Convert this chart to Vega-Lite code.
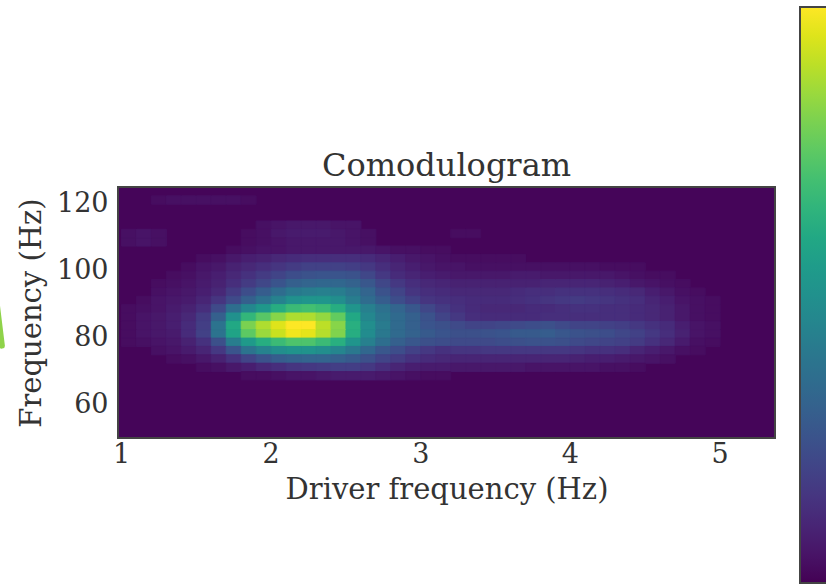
{"$schema":"https://vega.github.io/schema/vega-lite/v6.json","width":657,"height":251,"autosize":{"type":"none"},"padding":{"left":118,"top":187,"right":51,"bottom":147},"background":"white","title":{"text":"Comodulogram","font":"DejaVu Serif","fontSize":32,"fontWeight":"normal","color":"#333333","offset":-176},"config":{"view":{"stroke":"#444444","strokeWidth":2,"fill":"#450559"}},"resolve":{"scale":{"color":"independent"}},"layer":[{"data":{"values":[
{"x":1.25,"y":120,"v":0.03},{"x":1.35,"y":120,"v":0.04},{"x":1.45,"y":120,"v":0.04},{"x":1.55,"y":120,"v":0.04},{"x":1.65,"y":120,"v":0.04},{"x":1.75,"y":120,"v":0.04},{"x":1.85,"y":120,"v":0.03},
{"x":1.05,"y":107.5,"v":0.04},{"x":1.15,"y":107.5,"v":0.05},{"x":1.25,"y":107.5,"v":0.04},{"x":1.05,"y":110,"v":0.04},{"x":1.15,"y":110,"v":0.05},{"x":1.25,"y":110,"v":0.04},
{"x":1.95,"y":112.5,"v":0.04},{"x":2.05,"y":112.5,"v":0.05},{"x":2.15,"y":112.5,"v":0.06},{"x":2.25,"y":112.5,"v":0.06},{"x":2.35,"y":112.5,"v":0.06},{"x":2.45,"y":112.5,"v":0.05},{"x":2.55,"y":112.5,"v":0.05},
{"x":1.85,"y":110,"v":0.03},{"x":1.95,"y":110,"v":0.04},{"x":2.05,"y":110,"v":0.06},{"x":2.15,"y":110,"v":0.07},{"x":2.25,"y":110,"v":0.07},{"x":2.35,"y":110,"v":0.07},{"x":2.45,"y":110,"v":0.06},{"x":2.55,"y":110,"v":0.05},{"x":2.65,"y":110,"v":0.04},{"x":3.25,"y":110,"v":0.03},{"x":3.35,"y":110,"v":0.03},
{"x":1.85,"y":107.5,"v":0.03},{"x":1.95,"y":107.5,"v":0.04},{"x":2.05,"y":107.5,"v":0.05},{"x":2.15,"y":107.5,"v":0.06},{"x":2.25,"y":107.5,"v":0.06},{"x":2.35,"y":107.5,"v":0.06},{"x":2.45,"y":107.5,"v":0.06},{"x":2.55,"y":107.5,"v":0.05},{"x":2.65,"y":107.5,"v":0.04},
{"x":1.75,"y":105,"v":0.03},{"x":1.85,"y":105,"v":0.04},{"x":1.95,"y":105,"v":0.05},{"x":2.05,"y":105,"v":0.05},{"x":2.15,"y":105,"v":0.06},{"x":2.25,"y":105,"v":0.06},{"x":2.35,"y":105,"v":0.06},{"x":2.45,"y":105,"v":0.06},{"x":2.55,"y":105,"v":0.06},{"x":2.65,"y":105,"v":0.06},{"x":2.75,"y":105,"v":0.05},{"x":2.85,"y":105,"v":0.04},{"x":2.95,"y":105,"v":0.04},{"x":3.05,"y":105,"v":0.03},{"x":3.15,"y":105,"v":0.03},
{"x":1.55,"y":102.5,"v":0.03},{"x":1.65,"y":102.5,"v":0.04},{"x":1.75,"y":102.5,"v":0.06},{"x":1.85,"y":102.5,"v":0.08},{"x":1.95,"y":102.5,"v":0.09},{"x":2.05,"y":102.5,"v":0.11},{"x":2.15,"y":102.5,"v":0.12},{"x":2.25,"y":102.5,"v":0.13},{"x":2.35,"y":102.5,"v":0.13},{"x":2.45,"y":102.5,"v":0.13},{"x":2.55,"y":102.5,"v":0.13},{"x":2.65,"y":102.5,"v":0.12},{"x":2.75,"y":102.5,"v":0.1},{"x":2.85,"y":102.5,"v":0.08},{"x":2.95,"y":102.5,"v":0.06},{"x":3.05,"y":102.5,"v":0.05},{"x":3.15,"y":102.5,"v":0.04},{"x":3.25,"y":102.5,"v":0.03},{"x":3.35,"y":102.5,"v":0.03},{"x":3.45,"y":102.5,"v":0.03},{"x":3.55,"y":102.5,"v":0.03},{"x":3.65,"y":102.5,"v":0.03},
{"x":1.45,"y":100,"v":0.03},{"x":1.55,"y":100,"v":0.05},{"x":1.65,"y":100,"v":0.06},{"x":1.75,"y":100,"v":0.09},{"x":1.85,"y":100,"v":0.11},{"x":1.95,"y":100,"v":0.13},{"x":2.05,"y":100,"v":0.15},{"x":2.15,"y":100,"v":0.17},{"x":2.25,"y":100,"v":0.19},{"x":2.35,"y":100,"v":0.19},{"x":2.45,"y":100,"v":0.19},{"x":2.55,"y":100,"v":0.18},{"x":2.65,"y":100,"v":0.16},{"x":2.75,"y":100,"v":0.13},{"x":2.85,"y":100,"v":0.1},{"x":2.95,"y":100,"v":0.08},{"x":3.05,"y":100,"v":0.06},{"x":3.15,"y":100,"v":0.05},{"x":3.25,"y":100,"v":0.05},{"x":3.35,"y":100,"v":0.04},{"x":3.45,"y":100,"v":0.04},{"x":3.55,"y":100,"v":0.04},{"x":3.65,"y":100,"v":0.04},{"x":3.75,"y":100,"v":0.04},{"x":3.85,"y":100,"v":0.04},{"x":3.95,"y":100,"v":0.04},{"x":4.05,"y":100,"v":0.04},{"x":4.15,"y":100,"v":0.04},{"x":4.25,"y":100,"v":0.03},{"x":4.35,"y":100,"v":0.03},{"x":4.45,"y":100,"v":0.03},
{"x":1.35,"y":97.5,"v":0.03},{"x":1.45,"y":97.5,"v":0.04},{"x":1.55,"y":97.5,"v":0.06},{"x":1.65,"y":97.5,"v":0.08},{"x":1.75,"y":97.5,"v":0.11},{"x":1.85,"y":97.5,"v":0.14},{"x":1.95,"y":97.5,"v":0.17},{"x":2.05,"y":97.5,"v":0.2},{"x":2.15,"y":97.5,"v":0.23},{"x":2.25,"y":97.5,"v":0.25},{"x":2.35,"y":97.5,"v":0.26},{"x":2.45,"y":97.5,"v":0.26},{"x":2.55,"y":97.5,"v":0.25},{"x":2.65,"y":97.5,"v":0.21},{"x":2.75,"y":97.5,"v":0.16},{"x":2.85,"y":97.5,"v":0.12},{"x":2.95,"y":97.5,"v":0.1},{"x":3.05,"y":97.5,"v":0.08},{"x":3.15,"y":97.5,"v":0.07},{"x":3.25,"y":97.5,"v":0.06},{"x":3.35,"y":97.5,"v":0.06},{"x":3.45,"y":97.5,"v":0.06},{"x":3.55,"y":97.5,"v":0.06},{"x":3.65,"y":97.5,"v":0.07},{"x":3.75,"y":97.5,"v":0.07},{"x":3.85,"y":97.5,"v":0.06},{"x":3.95,"y":97.5,"v":0.06},{"x":4.05,"y":97.5,"v":0.06},{"x":4.15,"y":97.5,"v":0.06},{"x":4.25,"y":97.5,"v":0.06},{"x":4.35,"y":97.5,"v":0.05},{"x":4.45,"y":97.5,"v":0.04},{"x":4.55,"y":97.5,"v":0.03},{"x":4.65,"y":97.5,"v":0.03},
{"x":1.25,"y":95,"v":0.03},{"x":1.35,"y":95,"v":0.04},{"x":1.45,"y":95,"v":0.05},{"x":1.55,"y":95,"v":0.07},{"x":1.65,"y":95,"v":0.09},{"x":1.75,"y":95,"v":0.13},{"x":1.85,"y":95,"v":0.17},{"x":1.95,"y":95,"v":0.21},{"x":2.05,"y":95,"v":0.26},{"x":2.15,"y":95,"v":0.3},{"x":2.25,"y":95,"v":0.32},{"x":2.35,"y":95,"v":0.33},{"x":2.45,"y":95,"v":0.33},{"x":2.55,"y":95,"v":0.31},{"x":2.65,"y":95,"v":0.27},{"x":2.75,"y":95,"v":0.21},{"x":2.85,"y":95,"v":0.16},{"x":2.95,"y":95,"v":0.13},{"x":3.05,"y":95,"v":0.11},{"x":3.15,"y":95,"v":0.1},{"x":3.25,"y":95,"v":0.09},{"x":3.35,"y":95,"v":0.09},{"x":3.45,"y":95,"v":0.09},{"x":3.55,"y":95,"v":0.09},{"x":3.65,"y":95,"v":0.09},{"x":3.75,"y":95,"v":0.09},{"x":3.85,"y":95,"v":0.1},{"x":3.95,"y":95,"v":0.1},{"x":4.05,"y":95,"v":0.1},{"x":4.15,"y":95,"v":0.1},{"x":4.25,"y":95,"v":0.09},{"x":4.35,"y":95,"v":0.08},{"x":4.45,"y":95,"v":0.06},{"x":4.55,"y":95,"v":0.05},{"x":4.65,"y":95,"v":0.04},{"x":4.75,"y":95,"v":0.03},
{"x":1.25,"y":92.5,"v":0.04},{"x":1.35,"y":92.5,"v":0.05},{"x":1.45,"y":92.5,"v":0.06},{"x":1.55,"y":92.5,"v":0.08},{"x":1.65,"y":92.5,"v":0.11},{"x":1.75,"y":92.5,"v":0.17},{"x":1.85,"y":92.5,"v":0.23},{"x":1.95,"y":92.5,"v":0.29},{"x":2.05,"y":92.5,"v":0.35},{"x":2.15,"y":92.5,"v":0.4},{"x":2.25,"y":92.5,"v":0.42},{"x":2.35,"y":92.5,"v":0.43},{"x":2.45,"y":92.5,"v":0.42},{"x":2.55,"y":92.5,"v":0.38},{"x":2.65,"y":92.5,"v":0.32},{"x":2.75,"y":92.5,"v":0.25},{"x":2.85,"y":92.5,"v":0.2},{"x":2.95,"y":92.5,"v":0.15},{"x":3.05,"y":92.5,"v":0.13},{"x":3.15,"y":92.5,"v":0.12},{"x":3.25,"y":92.5,"v":0.11},{"x":3.35,"y":92.5,"v":0.11},{"x":3.45,"y":92.5,"v":0.11},{"x":3.55,"y":92.5,"v":0.11},{"x":3.65,"y":92.5,"v":0.12},{"x":3.75,"y":92.5,"v":0.13},{"x":3.85,"y":92.5,"v":0.13},{"x":3.95,"y":92.5,"v":0.14},{"x":4.05,"y":92.5,"v":0.14},{"x":4.15,"y":92.5,"v":0.14},{"x":4.25,"y":92.5,"v":0.13},{"x":4.35,"y":92.5,"v":0.12},{"x":4.45,"y":92.5,"v":0.11},{"x":4.55,"y":92.5,"v":0.08},{"x":4.65,"y":92.5,"v":0.06},{"x":4.75,"y":92.5,"v":0.04},{"x":4.85,"y":92.5,"v":0.03},
{"x":1.15,"y":90,"v":0.03},{"x":1.25,"y":90,"v":0.05},{"x":1.35,"y":90,"v":0.06},{"x":1.45,"y":90,"v":0.07},{"x":1.55,"y":90,"v":0.1},{"x":1.65,"y":90,"v":0.15},{"x":1.75,"y":90,"v":0.22},{"x":1.85,"y":90,"v":0.3},{"x":1.95,"y":90,"v":0.37},{"x":2.05,"y":90,"v":0.44},{"x":2.15,"y":90,"v":0.5},{"x":2.25,"y":90,"v":0.52},{"x":2.35,"y":90,"v":0.52},{"x":2.45,"y":90,"v":0.49},{"x":2.55,"y":90,"v":0.42},{"x":2.65,"y":90,"v":0.35},{"x":2.75,"y":90,"v":0.29},{"x":2.85,"y":90,"v":0.23},{"x":2.95,"y":90,"v":0.19},{"x":3.05,"y":90,"v":0.15},{"x":3.15,"y":90,"v":0.14},{"x":3.25,"y":90,"v":0.13},{"x":3.35,"y":90,"v":0.12},{"x":3.45,"y":90,"v":0.12},{"x":3.55,"y":90,"v":0.12},{"x":3.65,"y":90,"v":0.13},{"x":3.75,"y":90,"v":0.14},{"x":3.85,"y":90,"v":0.15},{"x":3.95,"y":90,"v":0.16},{"x":4.05,"y":90,"v":0.17},{"x":4.15,"y":90,"v":0.16},{"x":4.25,"y":90,"v":0.15},{"x":4.35,"y":90,"v":0.14},{"x":4.45,"y":90,"v":0.13},{"x":4.55,"y":90,"v":0.1},{"x":4.65,"y":90,"v":0.08},{"x":4.75,"y":90,"v":0.05},{"x":4.85,"y":90,"v":0.04},{"x":4.95,"y":90,"v":0.03},
{"x":1.05,"y":87.5,"v":0.03},{"x":1.15,"y":87.5,"v":0.04},{"x":1.25,"y":87.5,"v":0.05},{"x":1.35,"y":87.5,"v":0.07},{"x":1.45,"y":87.5,"v":0.09},{"x":1.55,"y":87.5,"v":0.13},{"x":1.65,"y":87.5,"v":0.22},{"x":1.75,"y":87.5,"v":0.36},{"x":1.85,"y":87.5,"v":0.46},{"x":1.95,"y":87.5,"v":0.53},{"x":2.05,"y":87.5,"v":0.62},{"x":2.15,"y":87.5,"v":0.68},{"x":2.25,"y":87.5,"v":0.7},{"x":2.35,"y":87.5,"v":0.68},{"x":2.45,"y":87.5,"v":0.62},{"x":2.55,"y":87.5,"v":0.52},{"x":2.65,"y":87.5,"v":0.43},{"x":2.75,"y":87.5,"v":0.37},{"x":2.85,"y":87.5,"v":0.32},{"x":2.95,"y":87.5,"v":0.27},{"x":3.05,"y":87.5,"v":0.21},{"x":3.15,"y":87.5,"v":0.17},{"x":3.25,"y":87.5,"v":0.14},{"x":3.35,"y":87.5,"v":0.12},{"x":3.45,"y":87.5,"v":0.11},{"x":3.55,"y":87.5,"v":0.11},{"x":3.65,"y":87.5,"v":0.11},{"x":3.75,"y":87.5,"v":0.12},{"x":3.85,"y":87.5,"v":0.12},{"x":3.95,"y":87.5,"v":0.13},{"x":4.05,"y":87.5,"v":0.14},{"x":4.15,"y":87.5,"v":0.14},{"x":4.25,"y":87.5,"v":0.13},{"x":4.35,"y":87.5,"v":0.13},{"x":4.45,"y":87.5,"v":0.12},{"x":4.55,"y":87.5,"v":0.11},{"x":4.65,"y":87.5,"v":0.09},{"x":4.75,"y":87.5,"v":0.06},{"x":4.85,"y":87.5,"v":0.04},{"x":4.95,"y":87.5,"v":0.03},
{"x":1.05,"y":85,"v":0.03},{"x":1.15,"y":85,"v":0.05},{"x":1.25,"y":85,"v":0.06},{"x":1.35,"y":85,"v":0.08},{"x":1.45,"y":85,"v":0.11},{"x":1.55,"y":85,"v":0.17},{"x":1.65,"y":85,"v":0.3},{"x":1.75,"y":85,"v":0.5},{"x":1.85,"y":85,"v":0.66},{"x":1.95,"y":85,"v":0.74},{"x":2.05,"y":85,"v":0.82},{"x":2.15,"y":85,"v":0.88},{"x":2.25,"y":85,"v":0.88},{"x":2.35,"y":85,"v":0.84},{"x":2.45,"y":85,"v":0.76},{"x":2.55,"y":85,"v":0.6},{"x":2.65,"y":85,"v":0.46},{"x":2.75,"y":85,"v":0.39},{"x":2.85,"y":85,"v":0.34},{"x":2.95,"y":85,"v":0.3},{"x":3.05,"y":85,"v":0.25},{"x":3.15,"y":85,"v":0.2},{"x":3.25,"y":85,"v":0.16},{"x":3.35,"y":85,"v":0.13},{"x":3.45,"y":85,"v":0.12},{"x":3.55,"y":85,"v":0.12},{"x":3.65,"y":85,"v":0.12},{"x":3.75,"y":85,"v":0.12},{"x":3.85,"y":85,"v":0.13},{"x":3.95,"y":85,"v":0.13},{"x":4.05,"y":85,"v":0.13},{"x":4.15,"y":85,"v":0.13},{"x":4.25,"y":85,"v":0.13},{"x":4.35,"y":85,"v":0.13},{"x":4.45,"y":85,"v":0.12},{"x":4.55,"y":85,"v":0.11},{"x":4.65,"y":85,"v":0.09},{"x":4.75,"y":85,"v":0.06},{"x":4.85,"y":85,"v":0.04},{"x":4.95,"y":85,"v":0.03},
{"x":1.05,"y":82.5,"v":0.03},{"x":1.15,"y":82.5,"v":0.05},{"x":1.25,"y":82.5,"v":0.06},{"x":1.35,"y":82.5,"v":0.08},{"x":1.45,"y":82.5,"v":0.12},{"x":1.55,"y":82.5,"v":0.18},{"x":1.65,"y":82.5,"v":0.38},{"x":1.75,"y":82.5,"v":0.6},{"x":1.85,"y":82.5,"v":0.8},{"x":1.95,"y":82.5,"v":0.88},{"x":2.05,"y":82.5,"v":0.95},{"x":2.15,"y":82.5,"v":1},{"x":2.25,"y":82.5,"v":1},{"x":2.35,"y":82.5,"v":0.9},{"x":2.45,"y":82.5,"v":0.82},{"x":2.55,"y":82.5,"v":0.63},{"x":2.65,"y":82.5,"v":0.49},{"x":2.75,"y":82.5,"v":0.41},{"x":2.85,"y":82.5,"v":0.34},{"x":2.95,"y":82.5,"v":0.3},{"x":3.05,"y":82.5,"v":0.26},{"x":3.15,"y":82.5,"v":0.24},{"x":3.25,"y":82.5,"v":0.22},{"x":3.35,"y":82.5,"v":0.2},{"x":3.45,"y":82.5,"v":0.2},{"x":3.55,"y":82.5,"v":0.21},{"x":3.65,"y":82.5,"v":0.22},{"x":3.75,"y":82.5,"v":0.23},{"x":3.85,"y":82.5,"v":0.24},{"x":3.95,"y":82.5,"v":0.22},{"x":4.05,"y":82.5,"v":0.2},{"x":4.15,"y":82.5,"v":0.2},{"x":4.25,"y":82.5,"v":0.19},{"x":4.35,"y":82.5,"v":0.18},{"x":4.45,"y":82.5,"v":0.16},{"x":4.55,"y":82.5,"v":0.14},{"x":4.65,"y":82.5,"v":0.12},{"x":4.75,"y":82.5,"v":0.08},{"x":4.85,"y":82.5,"v":0.05},{"x":4.95,"y":82.5,"v":0.04},
{"x":1.05,"y":80,"v":0.03},{"x":1.15,"y":80,"v":0.05},{"x":1.25,"y":80,"v":0.06},{"x":1.35,"y":80,"v":0.07},{"x":1.45,"y":80,"v":0.12},{"x":1.55,"y":80,"v":0.19},{"x":1.65,"y":80,"v":0.38},{"x":1.75,"y":80,"v":0.58},{"x":1.85,"y":80,"v":0.75},{"x":1.95,"y":80,"v":0.85},{"x":2.05,"y":80,"v":0.92},{"x":2.15,"y":80,"v":0.98},{"x":2.25,"y":80,"v":0.96},{"x":2.35,"y":80,"v":0.89},{"x":2.45,"y":80,"v":0.81},{"x":2.55,"y":80,"v":0.62},{"x":2.65,"y":80,"v":0.48},{"x":2.75,"y":80,"v":0.4},{"x":2.85,"y":80,"v":0.34},{"x":2.95,"y":80,"v":0.31},{"x":3.05,"y":80,"v":0.28},{"x":3.15,"y":80,"v":0.26},{"x":3.25,"y":80,"v":0.24},{"x":3.35,"y":80,"v":0.24},{"x":3.45,"y":80,"v":0.25},{"x":3.55,"y":80,"v":0.26},{"x":3.65,"y":80,"v":0.28},{"x":3.75,"y":80,"v":0.28},{"x":3.85,"y":80,"v":0.29},{"x":3.95,"y":80,"v":0.27},{"x":4.05,"y":80,"v":0.25},{"x":4.15,"y":80,"v":0.24},{"x":4.25,"y":80,"v":0.23},{"x":4.35,"y":80,"v":0.21},{"x":4.45,"y":80,"v":0.19},{"x":4.55,"y":80,"v":0.16},{"x":4.65,"y":80,"v":0.13},{"x":4.75,"y":80,"v":0.09},{"x":4.85,"y":80,"v":0.05},{"x":4.95,"y":80,"v":0.04},
{"x":1.05,"y":77.5,"v":0.03},{"x":1.15,"y":77.5,"v":0.04},{"x":1.25,"y":77.5,"v":0.05},{"x":1.35,"y":77.5,"v":0.06},{"x":1.45,"y":77.5,"v":0.09},{"x":1.55,"y":77.5,"v":0.14},{"x":1.65,"y":77.5,"v":0.24},{"x":1.75,"y":77.5,"v":0.42},{"x":1.85,"y":77.5,"v":0.54},{"x":1.95,"y":77.5,"v":0.62},{"x":2.05,"y":77.5,"v":0.68},{"x":2.15,"y":77.5,"v":0.72},{"x":2.25,"y":77.5,"v":0.72},{"x":2.35,"y":77.5,"v":0.68},{"x":2.45,"y":77.5,"v":0.63},{"x":2.55,"y":77.5,"v":0.52},{"x":2.65,"y":77.5,"v":0.43},{"x":2.75,"y":77.5,"v":0.36},{"x":2.85,"y":77.5,"v":0.3},{"x":2.95,"y":77.5,"v":0.27},{"x":3.05,"y":77.5,"v":0.24},{"x":3.15,"y":77.5,"v":0.23},{"x":3.25,"y":77.5,"v":0.22},{"x":3.35,"y":77.5,"v":0.22},{"x":3.45,"y":77.5,"v":0.22},{"x":3.55,"y":77.5,"v":0.23},{"x":3.65,"y":77.5,"v":0.24},{"x":3.75,"y":77.5,"v":0.25},{"x":3.85,"y":77.5,"v":0.25},{"x":3.95,"y":77.5,"v":0.24},{"x":4.05,"y":77.5,"v":0.22},{"x":4.15,"y":77.5,"v":0.21},{"x":4.25,"y":77.5,"v":0.2},{"x":4.35,"y":77.5,"v":0.19},{"x":4.45,"y":77.5,"v":0.17},{"x":4.55,"y":77.5,"v":0.14},{"x":4.65,"y":77.5,"v":0.11},{"x":4.75,"y":77.5,"v":0.07},{"x":4.85,"y":77.5,"v":0.04},{"x":4.95,"y":77.5,"v":0.03},
{"x":1.25,"y":75,"v":0.04},{"x":1.35,"y":75,"v":0.05},{"x":1.45,"y":75,"v":0.07},{"x":1.55,"y":75,"v":0.1},{"x":1.65,"y":75,"v":0.16},{"x":1.75,"y":75,"v":0.26},{"x":1.85,"y":75,"v":0.38},{"x":1.95,"y":75,"v":0.44},{"x":2.05,"y":75,"v":0.49},{"x":2.15,"y":75,"v":0.51},{"x":2.25,"y":75,"v":0.51},{"x":2.35,"y":75,"v":0.49},{"x":2.45,"y":75,"v":0.45},{"x":2.55,"y":75,"v":0.4},{"x":2.65,"y":75,"v":0.33},{"x":2.75,"y":75,"v":0.27},{"x":2.85,"y":75,"v":0.23},{"x":2.95,"y":75,"v":0.19},{"x":3.05,"y":75,"v":0.16},{"x":3.15,"y":75,"v":0.14},{"x":3.25,"y":75,"v":0.15},{"x":3.35,"y":75,"v":0.15},{"x":3.45,"y":75,"v":0.16},{"x":3.55,"y":75,"v":0.16},{"x":3.65,"y":75,"v":0.16},{"x":3.75,"y":75,"v":0.16},{"x":3.85,"y":75,"v":0.16},{"x":3.95,"y":75,"v":0.16},{"x":4.05,"y":75,"v":0.15},{"x":4.15,"y":75,"v":0.14},{"x":4.25,"y":75,"v":0.14},{"x":4.35,"y":75,"v":0.13},{"x":4.45,"y":75,"v":0.1},{"x":4.55,"y":75,"v":0.08},{"x":4.65,"y":75,"v":0.06},{"x":4.75,"y":75,"v":0.04},{"x":4.85,"y":75,"v":0.03},
{"x":1.35,"y":72.5,"v":0.03},{"x":1.45,"y":72.5,"v":0.04},{"x":1.55,"y":72.5,"v":0.06},{"x":1.65,"y":72.5,"v":0.09},{"x":1.75,"y":72.5,"v":0.14},{"x":1.85,"y":72.5,"v":0.2},{"x":1.95,"y":72.5,"v":0.25},{"x":2.05,"y":72.5,"v":0.29},{"x":2.15,"y":72.5,"v":0.31},{"x":2.25,"y":72.5,"v":0.32},{"x":2.35,"y":72.5,"v":0.32},{"x":2.45,"y":72.5,"v":0.3},{"x":2.55,"y":72.5,"v":0.28},{"x":2.65,"y":72.5,"v":0.24},{"x":2.75,"y":72.5,"v":0.2},{"x":2.85,"y":72.5,"v":0.17},{"x":2.95,"y":72.5,"v":0.14},{"x":3.05,"y":72.5,"v":0.12},{"x":3.15,"y":72.5,"v":0.11},{"x":3.25,"y":72.5,"v":0.1},{"x":3.35,"y":72.5,"v":0.1},{"x":3.45,"y":72.5,"v":0.1},{"x":3.55,"y":72.5,"v":0.1},{"x":3.65,"y":72.5,"v":0.1},{"x":3.75,"y":72.5,"v":0.1},{"x":3.85,"y":72.5,"v":0.1},{"x":3.95,"y":72.5,"v":0.1},{"x":4.05,"y":72.5,"v":0.09},{"x":4.15,"y":72.5,"v":0.08},{"x":4.25,"y":72.5,"v":0.08},{"x":4.35,"y":72.5,"v":0.07},{"x":4.45,"y":72.5,"v":0.06},{"x":4.55,"y":72.5,"v":0.05},{"x":4.65,"y":72.5,"v":0.04},
{"x":1.55,"y":70,"v":0.03},{"x":1.65,"y":70,"v":0.04},{"x":1.75,"y":70,"v":0.06},{"x":1.85,"y":70,"v":0.08},{"x":1.95,"y":70,"v":0.11},{"x":2.05,"y":70,"v":0.13},{"x":2.15,"y":70,"v":0.15},{"x":2.25,"y":70,"v":0.16},{"x":2.35,"y":70,"v":0.17},{"x":2.45,"y":70,"v":0.18},{"x":2.55,"y":70,"v":0.18},{"x":2.65,"y":70,"v":0.16},{"x":2.75,"y":70,"v":0.13},{"x":2.85,"y":70,"v":0.1},{"x":2.95,"y":70,"v":0.08},{"x":3.05,"y":70,"v":0.07},{"x":3.15,"y":70,"v":0.07},{"x":3.25,"y":70,"v":0.06},{"x":3.35,"y":70,"v":0.06},{"x":3.45,"y":70,"v":0.06},{"x":3.55,"y":70,"v":0.06},{"x":3.65,"y":70,"v":0.06},{"x":3.75,"y":70,"v":0.05},{"x":3.85,"y":70,"v":0.05},{"x":3.95,"y":70,"v":0.05},{"x":4.05,"y":70,"v":0.05},{"x":4.15,"y":70,"v":0.05},{"x":4.25,"y":70,"v":0.04},{"x":4.35,"y":70,"v":0.04},{"x":4.45,"y":70,"v":0.03},
{"x":1.85,"y":67.5,"v":0.03},{"x":1.95,"y":67.5,"v":0.03},{"x":2.05,"y":67.5,"v":0.04},{"x":2.15,"y":67.5,"v":0.05},{"x":2.25,"y":67.5,"v":0.05},{"x":2.35,"y":67.5,"v":0.06},{"x":2.45,"y":67.5,"v":0.07},{"x":2.55,"y":67.5,"v":0.07},{"x":2.65,"y":67.5,"v":0.07},{"x":2.75,"y":67.5,"v":0.06},{"x":2.85,"y":67.5,"v":0.05},{"x":2.95,"y":67.5,"v":0.04},{"x":3.05,"y":67.5,"v":0.03},{"x":3.15,"y":67.5,"v":0.03}
]},"mark":{"type":"rect","clip":true},"encoding":{"x":{"field":"x","type":"quantitative","bin":{"step":0.1,"extent":[0.9,5.4]},"scale":{"domain":[0.98,5.37],"nice":false,"zero":false},"axis":{"values":[1,2,3,4,5],"format":"d","title":"Driver frequency (Hz)","grid":false,"domain":false,"ticks":false,"labelFont":"DejaVu Serif","labelFontSize":27,"labelColor":"#333333","labelPadding":3,"labelFlush":false,"titleFont":"DejaVu Serif","titleFontSize":29,"titleFontWeight":"normal","titleColor":"#333333","titlePadding":8}},"y":{"field":"y","type":"quantitative","bin":{"step":2.5,"extent":[50,125]},"scale":{"domain":[50,125],"nice":false,"zero":false},"axis":{"values":[60,80,100,120],"format":"d","title":"Frequency (Hz)","grid":false,"domain":false,"ticks":false,"labelFont":"DejaVu Serif","labelFontSize":27,"labelColor":"#333333","labelPadding":10,"titleFont":"DejaVu Serif","titleFontSize":29,"titleFontWeight":"normal","titleColor":"#333333","titlePadding":10}},"color":{"field":"v","type":"quantitative","scale":{"scheme":"viridis","domain":[0,1]},"legend":{"type":"gradient","orient":"none","legendX":682,"legendY":-180,"gradientLength":576,"gradientThickness":40,"gradientStrokeColor":"#444444","gradientStrokeWidth":2,"title":null,"labelExpr":"''","padding":0}},"stroke":{"field":"v","type":"quantitative","scale":{"scheme":"viridis","domain":[0,1]},"legend":null}}},{"data":{"values":[{"x":0.17,"y":90},{"x":0.204,"y":77.6}]},"mark":{"type":"line","color":"#8fd34a","strokeWidth":6,"strokeCap":"round","clip":false},"encoding":{"x":{"field":"x","type":"quantitative"},"y":{"field":"y","type":"quantitative"}}}]}
